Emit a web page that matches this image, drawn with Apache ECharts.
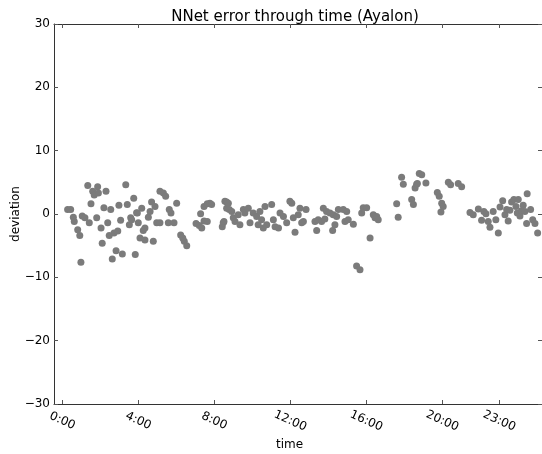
<!DOCTYPE html>
<html>
<head>
<meta charset="utf-8">
<script src="https://cdn.jsdelivr.net/npm/echarts@6/dist/echarts.min.js"></script>
<style>
  html, body { margin: 0; padding: 0; background: #fff; }
  #chart { width: 542px; height: 454px; }
</style>
</head>
<body>
<div id="chart"></div>
<script>
// hour of day for each sample
var hours = [
  0.28, 0.44, 0.58, 0.63, 0.81, 0.92, 0.98, 1.05, 1.19, 1.34, 1.42, 1.51, 1.6, 1.68, 1.81, 1.86, 1.9,
  2.04, 2.1, 2.19, 2.3, 2.39, 2.47, 2.55, 2.63, 2.72, 2.83, 2.92, 2.98, 3.07, 3.16, 3.34, 3.42, 3.53,
  3.6, 3.65, 3.76, 3.84, 3.91, 3.95, 4.0, 4.09, 4.18, 4.26, 4.35, 4.35, 4.53, 4.62, 4.7, 4.79, 4.88,
  4.97, 5.14, 5.14, 5.32, 5.44, 5.58, 5.63, 5.72, 5.88, 6.02, 6.23, 6.34, 6.42, 6.55, 7.04, 7.21,
  7.28, 7.34, 7.46, 7.46, 7.63, 7.63, 7.77, 7.86, 8.42, 8.47, 8.51, 8.56, 8.65, 8.65, 8.74, 8.79,
  8.92, 9.0, 9.09, 9.26, 9.35, 9.53, 9.61, 9.79, 9.88, 10.05, 10.23, 10.31, 10.4, 10.49, 10.58,
  10.67, 10.76, 11.02, 11.11, 11.2, 11.38, 11.46, 11.64, 11.81, 11.98, 12.08, 12.16, 12.25, 12.42,
  12.51, 12.6, 12.69, 12.83, 13.3, 13.39, 13.47, 13.65, 13.74, 13.82, 13.91, 14.09, 14.23, 14.26,
  14.35, 14.44, 14.53, 14.79, 14.88, 14.97, 15.05, 15.32, 15.49, 15.67, 15.76, 15.84, 16.02, 16.2,
  16.37, 16.46, 16.55, 16.63, 17.6, 17.68, 17.86, 17.95, 18.39, 18.48, 18.57, 18.65, 18.69, 18.79,
  18.92, 19.14, 19.74, 19.84, 19.93, 19.97, 20.05, 20.32, 20.44, 20.84, 21.02, 21.46, 21.63, 21.9,
  22.07, 22.19, 22.3, 22.42, 22.51, 22.68, 22.82, 22.95, 23.04, 23.18, 23.3, 23.39, 23.47, 23.56,
  23.65, 23.77, 23.88, 23.95, 24.0, 24.09, 24.17, 24.26, 24.35, 24.44, 24.47, 24.65, 24.76, 24.88,
  25.02
];
// deviation of the network's prediction, same order as hours
var deviations = [
  0.7, 0.7, -0.5, -1.2, -2.5, -3.4, -7.6, -0.3, -0.6, 4.5, -1.4, 1.6, 3.6, 3.0, -0.6, 4.3, 3.3,
  -2.2, -4.6, 1.0, 3.6, -1.4, -3.4, 0.7, -7.1, -3.0, -5.8, -2.7, 1.4, -1.0, -6.3, 4.6, 1.5, -1.7,
  -0.6, -0.9, 2.5, -6.4, 0.2, 0.15, -1.4, -3.8, 0.9, -2.6, -2.2, -4.1, -0.5, 0.4, 1.9, -4.3, 1.2,
  -1.4, -1.4, 3.6, 3.3, 2.8, -1.4, 0.7, 0.15, -1.4, 1.7, -3.3, -3.8, -4.3, -5.0, -1.5, -1.8,
  0.05, -2.2, -1.1, 1.2, -1.2, 1.6, 1.7, 1.5, -2.0, -1.4, -1.2, 2.0, 1.9, 0.9, 1.7, 0.7,
  0.4, -0.6, -1.2, -0.1, -1.7, 0.7, 0.15, 0.9, -1.4, 0.15, -0.4, -1.7, 0.4, -0.9, -2.2,
  1.2, -1.7, 1.5, -0.9, -2.0, -2.2, 0.15, -0.4, -1.4, 2.0, 1.7, -0.6, -2.9, -0.1,
  0.9, -1.4, -1.2, 0.7, -1.2, -2.6, -0.9, -1.2, 0.9, -0.8, 0.4, 0.15, -2.6, -0.1,
  -1.7, -0.4, 0.7, 0.7, -1.2, 0.4, -0.9, -1.6, -8.2, -8.8, 0.15, 1.0, 1.0, -3.8,
  -0.1, -0.6, -0.4, -0.9, 1.6, -0.5, 5.8, 4.7, 2.3, 1.5, 4.1, 4.7, 4.8, 6.4,
  6.2, 4.9, 3.4, 2.8, 0.3, 1.7, 1.2, 5.0, 4.6, 4.8, 4.3, 0.25, -0.1, 0.8,
  -1.0, 0.4, 0.05, -1.2, -2.1, 0.4, -0.9, -3.0, 1.1, 2.1, -0.1, 0.7, -1.1, 0.6,
  1.9, 2.3, 1.2, 0.15, 2.3, -0.3, 0.5, 1.4, 0.4, -1.5, 3.2, 0.7, -0.9, -1.5,
  -3.0
];
var hourTicks = [0, 4, 8, 12, 16, 20, 23];

var points = hours.map(function (h, i) { return [h, deviations[i]]; });

var chart = echarts.init(document.getElementById('chart'));
var font = 'DejaVu Sans';
var spine = { show: true, onZero: false, lineStyle: { color: '#333', width: 1 } };
var ticks = { show: true, inside: true, length: 4, lineStyle: { color: '#555' } };
var xMin = -0.437, xMax = 25.25;

var option = {
  animation: false,
  title: {
    text: 'NNet error through time (Ayalon)',
    left: 290,
    textAlign: 'center',
    top: 5,
    textStyle: { fontFamily: font, fontSize: 15, fontWeight: 'normal', color: '#000' }
  },
  grid: { left: 54, right: 0, top: 24, bottom: 50, containLabel: false, outerBoundsMode: 'none' },
  xAxis: [
    {
      type: 'value',
      min: xMin,
      max: xMax,
      name: 'time',
      nameLocation: 'middle',
      nameGap: 35,
      nameMoveOverlap: false,
      nameTextStyle: { fontFamily: font, fontSize: 12, color: '#000', padding: [0, 17, 0, 0] },
      axisLine: spine,
      axisTick: Object.assign({ customValues: hourTicks }, ticks),
      splitLine: { show: false },
      axisLabel: {
        customValues: hourTicks,
        formatter: function (v) { return v + ':00'; },
        rotate: -24,
        align: 'center',
        verticalAlign: 'middle',
        margin: 17,
        fontFamily: font,
        fontSize: 12,
        color: '#000'
      }
    },
    {
      type: 'value',
      position: 'top',
      min: xMin,
      max: xMax,
      axisLine: spine,
      axisTick: Object.assign({ customValues: hourTicks }, ticks),
      axisLabel: { show: false },
      splitLine: { show: false }
    }
  ],
  yAxis: [
    {
      type: 'value',
      min: -30,
      max: 30,
      interval: 10,
      name: 'deviation',
      nameLocation: 'middle',
      nameGap: 32,
      nameMoveOverlap: false,
      nameTextStyle: { fontFamily: font, fontSize: 12, color: '#000' },
      axisLine: spine,
      axisTick: ticks,
      splitLine: { show: false },
      axisLabel: {
        margin: 4,
        fontFamily: font,
        fontSize: 12,
        color: '#000',
        formatter: function (v) { return v < 0 ? '\u2212' + (-v) : String(v); }
      }
    },
    {
      type: 'value',
      position: 'right',
      min: -30,
      max: 30,
      interval: 10,
      axisLine: spine,
      axisTick: ticks,
      axisLabel: { show: false },
      splitLine: { show: false }
    }
  ],
  series: [
    {
      name: 'deviation',
      type: 'scatter',
      data: points,
      symbolSize: 7,
      itemStyle: { color: '#7b7b7b', opacity: 1 }
    }
  ]
};
chart.setOption(option);
</script>
</body>
</html>
